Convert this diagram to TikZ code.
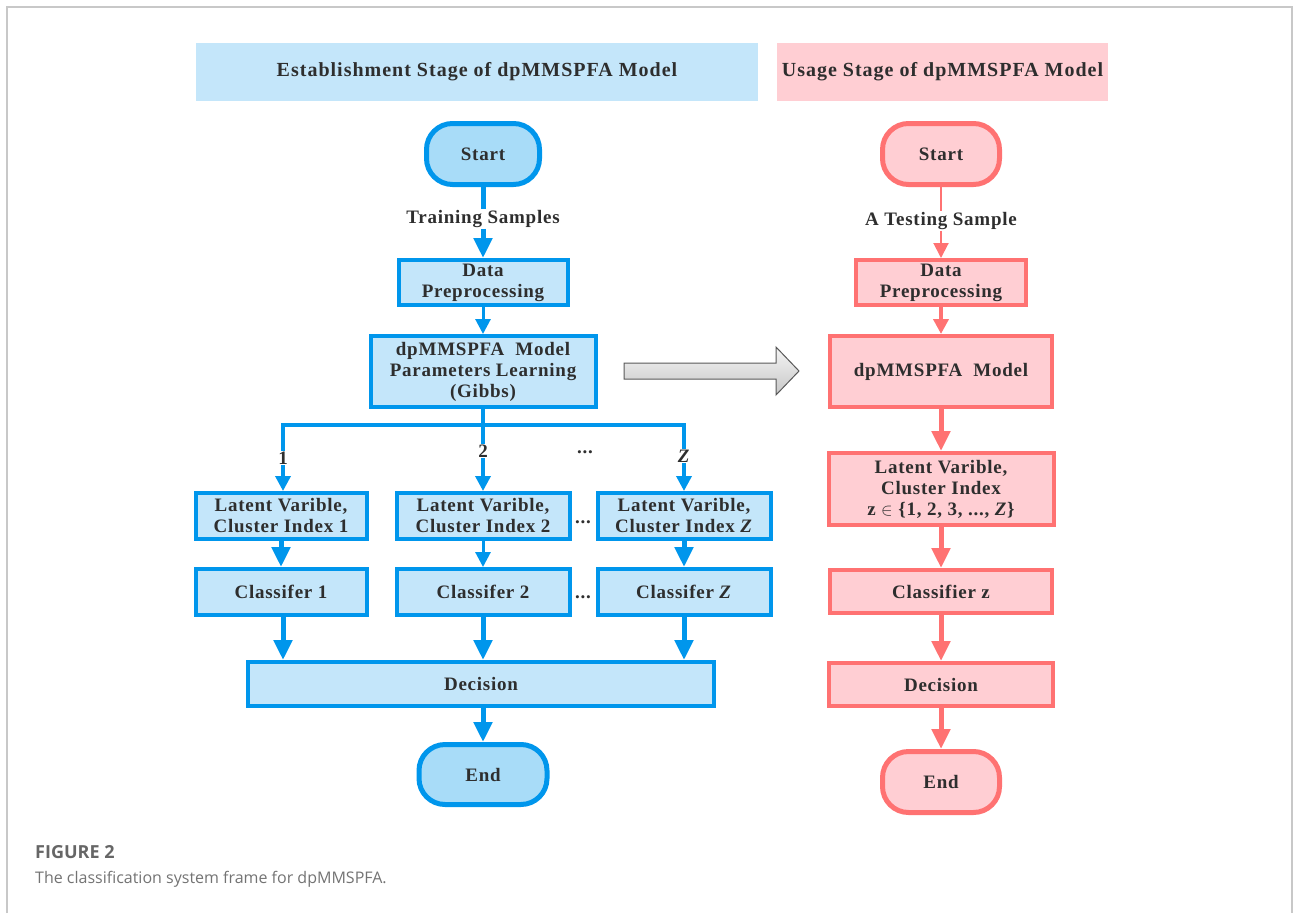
\documentclass[tikz,border=0pt]{standalone}
\usepackage{fontspec}
\setmainfont{Liberation Serif}
\newfontfamily\capfont{Open Sans}
\usetikzlibrary{arrows.meta}
\definecolor{bblue}{HTML}{0096EC}
\definecolor{bfill}{HTML}{C4E6FA}
\definecolor{bterm}{HTML}{A8DCF8}
\definecolor{pred}{HTML}{FF7272}
\definecolor{pfill}{HTML}{FFCED3}
\definecolor{txt}{HTML}{2E2E2E}
\definecolor{frame}{HTML}{C8C8C8}
\newcommand{\bxfont}{\fontsize{19}{21}\selectfont\bfseries\addfontfeature{LetterSpace=4}}
\newcommand{\hdfont}{\fontsize{20}{22}\selectfont\bfseries\addfontfeature{LetterSpace=5}}
\tikzset{
  allbox/.style={rectangle, text=txt, font=\bxfont, align=center, inner sep=0pt},
  bbox/.style={allbox, draw=bblue, fill=bfill, line width=4pt},
  pbox/.style={allbox, draw=pred, fill=pfill, line width=4pt},
  bterm/.style={allbox, draw=bblue, fill=bterm, line width=5pt, rounded corners=26pt},
  pterm/.style={allbox, draw=pred, fill=pfill, line width=5pt, rounded corners=26pt},
  hdr/.style={allbox, draw=none, font=\hdfont},
  lbl/.style={text=txt, font=\bxfont, inner sep=1pt},
  bl/.style={draw=bblue, line width=#1},
  pl/.style={draw=pred, line width=#1},
  bigtip/.style={-{Triangle[length=20pt,width=18pt]}},
  midtip/.style={-{Triangle[length=15pt,width=15pt]}},
}
\begin{document}
\begin{tikzpicture}[x=1pt,y=-1pt]
\useasboundingbox (0,0) rectangle (1293,913);
% frame
\draw[frame, line width=1.5pt] (7,913) -- (7,7) -- (1292,7) -- (1292,913);

% headers
\node[hdr, fill=bfill, minimum width=562pt, minimum height=58pt] (hl) at (477,72) {Establishment Stage of dpMMSPFA Model};
\node[hdr, fill=pfill, minimum width=331pt, minimum height=58pt] (hr) at (942.5,72) {Usage Stage of dpMMSPFA Model};

% ---------- left column ----------
\node[bterm, minimum width=113pt, minimum height=61pt] (ls) at (483,154) {Start};
\node[lbl] (lts) at (483,219) {Training Samples};
\node[bbox, minimum width=169pt, minimum height=45pt] (ld) at (483,282.5) {Data\\Preprocessing};
\node[bbox, minimum width=225pt, minimum height=71pt] (ldp) at (483,371.5) {dpMMSPFA\ \ Model\\Parameters Learning\\(Gibbs)};

\coordinate (b1) at (283,425);
\coordinate (b2) at (483,425);
\coordinate (b3) at (684,425);
\node[lbl] (n1) at (283,458) {1};
\node[lbl] (n2) at (483,451) {2};
\node[lbl] (n3) at (684,456) {\textit{Z}};
\node[lbl] (nd) at (585,452) {...};

\node[bbox, minimum width=171pt, minimum height=46pt] (lat1) at (281,516) {Latent Varible,\\Cluster Index 1};
\node[bbox, minimum width=173pt, minimum height=46pt] (lat2) at (483,516) {Latent Varible,\\Cluster Index 2};
\node[bbox, minimum width=173pt, minimum height=46pt] (lat3) at (684,516) {Latent Varible,\\Cluster Index \textit{Z}};
\node[lbl] (d1) at (583,522) {...};

\node[bbox, minimum width=171pt, minimum height=46pt] (cl1) at (281,592) {Classifer 1};
\node[bbox, minimum width=173pt, minimum height=46pt] (cl2) at (483,592) {Classifer 2};
\node[bbox, minimum width=173pt, minimum height=46pt] (cl3) at (684,592) {Classifer \textit{Z}};
\node[lbl] (d2) at (583,597) {...};

\node[bbox, minimum width=466pt, minimum height=44pt] (ldec) at (481,684) {Decision};
\node[bterm, minimum width=128pt, minimum height=60pt] (lend) at (483,774.5) {End};

\draw[bl=5pt] (ls.south) -- (lts.north);
\draw[bl=5pt, bigtip] (lts.south) -- (ld.north);
\draw[bl=3pt, midtip] (ld.south) -- (ldp.north);
\draw[bl=4pt] (ldp.south) -- (b2);
\draw[bl=4pt, line cap=rect] (b1) -- (b3);
\draw[bl=3.5pt] (b1) -- (n1.north);
\draw[bl=3.5pt] (b2) -- (n2.north);
\draw[bl=3.5pt] (b3) -- (n3.north);
\draw[bl=3.5pt, midtip] (n1.south) -- (lat1.north -| n1.south);
\draw[bl=3.5pt, midtip] (n2.south) -- (lat2.north);
\draw[bl=3.5pt, midtip] (n3.south) -- (lat3.north);
\draw[bl=5pt, bigtip] (lat1.south) -- (cl1.north);
\draw[bl=3pt, midtip] (lat2.south) -- (cl2.north);
\draw[bl=5pt, bigtip] (lat3.south) -- (cl3.north);
\draw[bl=5pt, bigtip] (cl1.south -| n1.south) -- (ldec.north -| n1.south);
\draw[bl=5pt, bigtip] (cl2.south) -- (ldec.north -| cl2.south);
\draw[bl=5pt, bigtip] (cl3.south) -- (ldec.north -| cl3.south);
\draw[bl=5pt, bigtip] (ldec.south -| lend.north) -- (lend.north);

% ---------- big gray arrow ----------
\draw[draw=black!65, line width=1pt, top color=black!4, bottom color=black!22]
  (624,363) -- (776,363) -- (776,347) -- (799,371) -- (776,395) -- (776,379) -- (624,379) -- cycle;

% ---------- right column ----------
\node[pterm, minimum width=117pt, minimum height=61pt] (rs) at (941,154) {Start};
\node[lbl] (rts) at (941,221) {A Testing Sample};
\node[pbox, minimum width=170pt, minimum height=45pt] (rd) at (941,282.5) {Data\\Preprocessing};
\node[pbox, minimum width=222pt, minimum height=71pt] (rdp) at (941,371.5) {dpMMSPFA\ \ Model};
\node[pbox, minimum width=225pt, minimum height=72pt] (rlat) at (941,489) {Latent Varible,\\Cluster Index\\ z $\in$ \{1,\ 2,\ 3,\ ...,\ \textit{Z}\}};
\node[pbox, minimum width=222pt, minimum height=43pt] (rcl) at (941,591.5) {Classifier z};
\node[pbox, minimum width=224pt, minimum height=43pt] (rdec) at (941,684.5) {Decision};
\node[pterm, minimum width=117pt, minimum height=61pt] (rend) at (941,782) {End};

\draw[pl=2pt] (rs.south) -- (rts.north);
\draw[pl=2pt, midtip] (rts.south) -- (rd.north);
\draw[pl=4pt, midtip] (rd.south) -- (rdp.north);
\draw[pl=5pt, bigtip] (rdp.south) -- (rlat.north);
\draw[pl=5pt, bigtip] (rlat.south) -- (rcl.north);
\draw[pl=5pt, bigtip] (rcl.south) -- (rdec.north);
\draw[pl=5pt, bigtip] (rdec.south) -- (rend.north);

% ---------- caption ----------
\node[anchor=west, inner sep=0pt, font=\capfont\fontsize{18}{21}\selectfont\bfseries, text=black!60] (cap1) at (35,852) {FIGURE 2};
\node[anchor=west, inner sep=0pt, font=\capfont\fontsize{16}{19}\selectfont, text=black!55] (cap2) at (35,879) {The classification system frame for dpMMSPFA.};
\end{tikzpicture}
\end{document}
